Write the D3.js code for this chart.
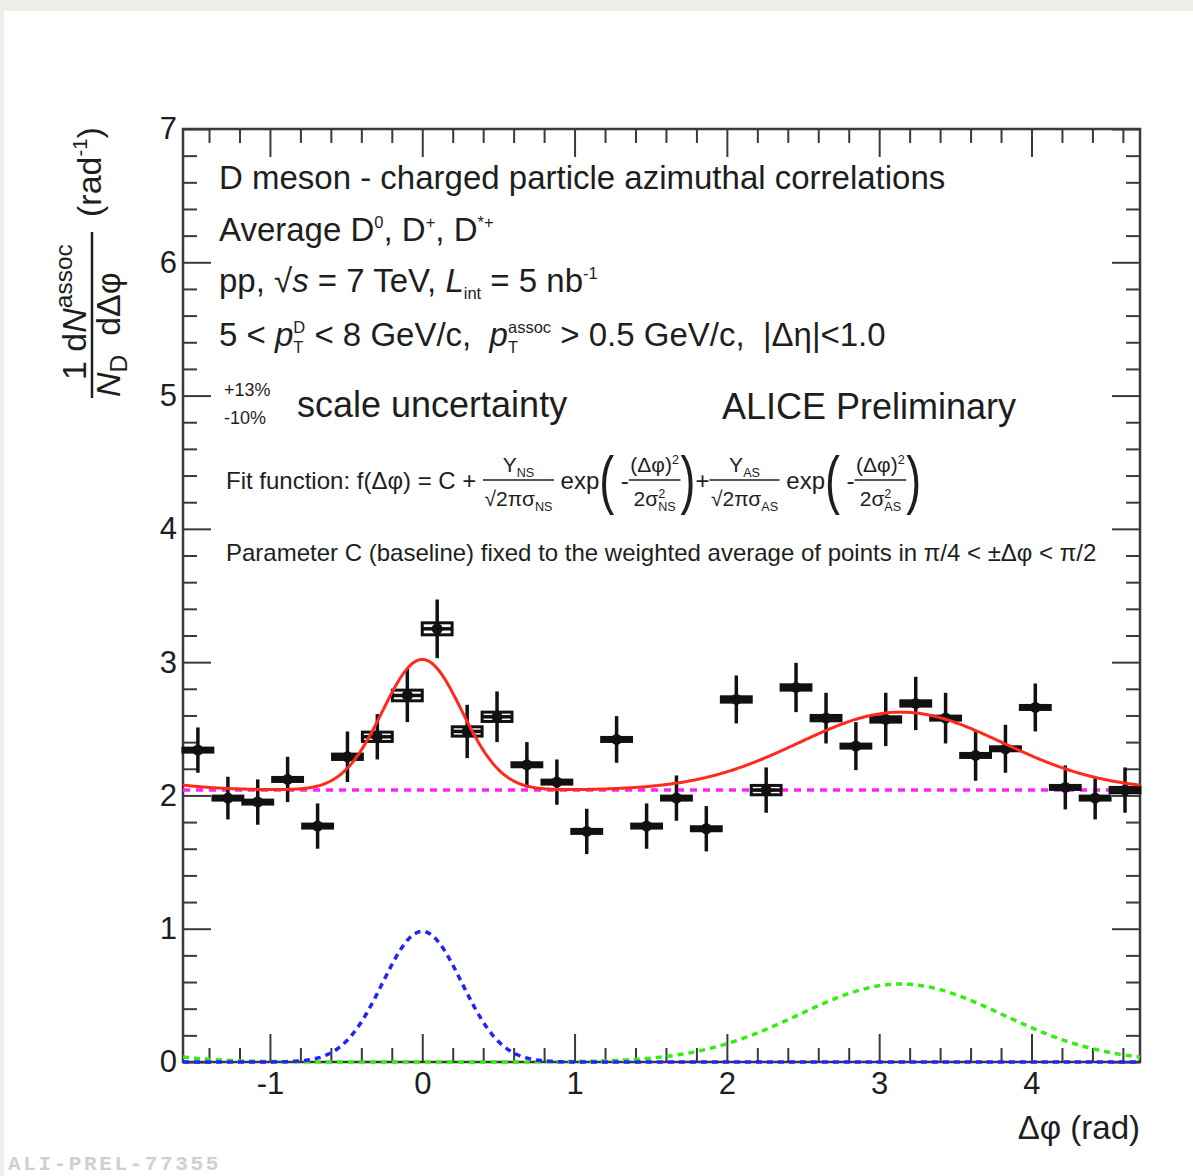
<!DOCTYPE html>
<html lang="en">
<head>
<meta charset="utf-8">
<title>D meson - charged particle azimuthal correlations</title>
<style>
  body { margin: 0; background: #fff; }
  svg text { font-family: "Liberation Sans", Arial, sans-serif; fill: #1e1e1e; white-space: pre; }
</style>
</head>
<body>
<script src="https://cdn.jsdelivr.net/npm/d3@7"></script>
<script>
// bin centres of the 32 delta-phi bins (-pi/2 .. 3pi/2), half bin width
const binCentres = [-1.473, -1.276, -1.080, -0.884, -0.687, -0.491, -0.295, -0.098,
    0.098, 0.295, 0.491, 0.687, 0.884, 1.080, 1.276, 1.473,
    1.669, 1.865, 2.062, 2.258, 2.454, 2.651, 2.847, 3.043,
    3.240, 3.436, 3.633, 3.829, 4.025, 4.222, 4.418, 4.614];
const binHalfWidth = 0.098;

// per-trigger associated yield, stat and syst errors
const yields = [2.34, 1.98, 1.95, 2.12, 1.77, 2.29, 2.44, 2.75,
    3.25, 2.48, 2.59, 2.23, 2.10, 1.73, 2.42, 1.77,
    1.98, 1.75, 2.72, 2.04, 2.81, 2.58, 2.37, 2.57,
    2.69, 2.58, 2.30, 2.35, 2.66, 2.06, 1.98, 2.04];
const statErr = [0.17, 0.16, 0.17, 0.17, 0.17, 0.19, 0.17, 0.20,
    0.22, 0.20, 0.19, 0.17, 0.17, 0.17, 0.175, 0.17,
    0.17, 0.17, 0.18, 0.17, 0.185, 0.19, 0.18, 0.20,
    0.20, 0.19, 0.19, 0.18, 0.18, 0.165, 0.16, 0.17];
const sysErr = [0.015, 0.015, 0.015, 0.015, 0.015, 0.02, 0.035, 0.04,
    0.045, 0.035, 0.035, 0.015, 0.015, 0.015, 0.015, 0.015,
    0.015, 0.015, 0.02, 0.035, 0.02, 0.02, 0.015, 0.02,
    0.02, 0.015, 0.015, 0.015, 0.015, 0.015, 0.015, 0.02];

// fit parameters (peak heights of the gaussians, widths, baseline)
const baselineC = 2.04;
const nearSide = {peak: 0.98, mean: 0, sigma: 0.26};
const awaySide = {peak: 0.585, mean: Math.PI, sigma: 0.67};

const xMajorTicks = [-1, 0, 1, 2, 3, 4];
const yMajorTicks = [0, 1, 2, 3, 4, 5, 6, 7];

const W = 1193, H = 1176;
const svg = d3.select("body").append("svg").attr("width", W).attr("height", H);

// page background (light grey strip on top/left like the screenshot)
svg.append("rect").attr("width", W).attr("height", H).attr("fill", "#eeeeea");
svg.append("rect").attr("x", 4).attr("y", 11).attr("width", W - 4).attr("height", H - 11).attr("fill", "#fff");

const x = d3.scaleLinear().domain([-Math.PI / 2, 3 * Math.PI / 2]).range([183, 1140]);
const y = d3.scaleLinear().domain([0, 7]).range([1062, 129]);

// minor ticks every 0.2
const xMinor = d3.range(-7, 24).map(i => +(i * 0.2).toFixed(1)).filter(v => !Number.isInteger(v));
const yMinor = d3.range(1, 35).map(i => +(i * 0.2).toFixed(1)).filter(v => !Number.isInteger(v));

function axisStyle(g) {
    g.select(".domain").remove();
    g.attr("color", "#3a3a3a");
    g.selectAll("line").attr("stroke-width", 2);
    g.selectAll("text").attr("fill", "#1e1e1e").style("font-size", "31px");
}

svg.append("g").attr("transform", `translate(0,${y(0)})`)
    .call(d3.axisBottom(x).tickValues(xMajorTicks).tickSize(-28).tickPadding(10).tickFormat(d => String(d)))
    .call(axisStyle);
svg.append("g").attr("transform", `translate(0,${y(0)})`)
    .call(d3.axisBottom(x).tickValues(xMinor).tickSize(-14).tickFormat(""))
    .call(axisStyle);
svg.append("g").attr("transform", `translate(0,${y(7)})`)
    .call(d3.axisTop(x).tickValues(xMajorTicks).tickSize(-28).tickFormat(""))
    .call(axisStyle);
svg.append("g").attr("transform", `translate(0,${y(7)})`)
    .call(d3.axisTop(x).tickValues(xMinor).tickSize(-14).tickFormat(""))
    .call(axisStyle);
svg.append("g").attr("transform", `translate(${x.range()[0]},0)`)
    .call(d3.axisLeft(y).tickValues(yMajorTicks).tickSize(-28).tickPadding(6).tickFormat(d => String(d)))
    .call(axisStyle);
svg.append("g").attr("transform", `translate(${x.range()[0]},0)`)
    .call(d3.axisLeft(y).tickValues(yMinor).tickSize(-14).tickFormat(""))
    .call(axisStyle);
svg.append("g").attr("transform", `translate(${x.range()[1]},0)`)
    .call(d3.axisRight(y).tickValues(yMajorTicks).tickSize(-28).tickFormat(""))
    .call(axisStyle);
svg.append("g").attr("transform", `translate(${x.range()[1]},0)`)
    .call(d3.axisRight(y).tickValues(yMinor).tickSize(-14).tickFormat(""))
    .call(axisStyle);

// frame
svg.append("rect")
    .attr("x", x.range()[0]).attr("y", y(7))
    .attr("width", x.range()[1] - x.range()[0]).attr("height", y(0) - y(7))
    .attr("fill", "none").attr("stroke", "#3a3a3a").attr("stroke-width", 2.5);

// fit components
const gauss = (p, v) => {
    // periodic images so the tails wrap round the 2pi range
    let s = 0;
    for (const k of [-1, 0, 1]) {
        const d = v - p.mean + k * 2 * Math.PI;
        s += p.peak * Math.exp(-d * d / (2 * p.sigma * p.sigma));
    }
    return s;
};
const grid = d3.range(0, 629).map(i => -Math.PI / 2 + i * 0.01).concat([3 * Math.PI / 2]);
const line = d3.line().x(d => x(d[0])).y(d => y(d[1]));

const plot = svg.append("g");
plot.append("path").datum(grid.map(v => [v, gauss(awaySide, v)]))
    .attr("d", line).attr("fill", "none").attr("stroke", "#33ee11")
    .attr("stroke-width", 3.5).attr("stroke-dasharray", "6,5");
plot.append("path").datum(grid.map(v => [v, gauss(nearSide, v)]))
    .attr("d", line).attr("fill", "none").attr("stroke", "#2222ff")
    .attr("stroke-width", 3.5).attr("stroke-dasharray", "6,5");
plot.append("path").datum(grid.map(v => [v, baselineC]))
    .attr("d", line).attr("fill", "none").attr("stroke", "#ff22ff")
    .attr("stroke-width", 3.5).attr("stroke-dasharray", "7,6");

// data points
const pts = plot.selectAll("g.pt").data(yields.map((v, i) => ({
    x: binCentres[i], v: v, stat: statErr[i], sys: sysErr[i]
}))).join("g").attr("class", "pt");

pts.append("rect")
    .attr("x", d => x(d.x - binHalfWidth)).attr("y", d => y(d.v + d.sys))
    .attr("width", d => x(d.x + binHalfWidth) - x(d.x - binHalfWidth))
    .attr("height", d => y(d.v - d.sys) - y(d.v + d.sys))
    .attr("fill", "none").attr("stroke", "#111").attr("stroke-width", 3);
pts.append("line")
    .attr("x1", d => x(d.x - binHalfWidth)).attr("x2", d => x(d.x + binHalfWidth))
    .attr("y1", d => y(d.v)).attr("y2", d => y(d.v))
    .attr("stroke", "#111").attr("stroke-width", 3.5);
pts.append("line")
    .attr("x1", d => x(d.x)).attr("x2", d => x(d.x))
    .attr("y1", d => y(d.v - d.stat)).attr("y2", d => y(d.v + d.stat))
    .attr("stroke", "#111").attr("stroke-width", 3.5);
pts.append("circle")
    .attr("cx", d => x(d.x)).attr("cy", d => y(d.v)).attr("r", 5.5).attr("fill", "#111");

// total fit
plot.append("path").datum(grid.map(v => [v, baselineC + gauss(nearSide, v) + gauss(awaySide, v)]))
    .attr("d", line).attr("fill", "none").attr("stroke", "#ff2a1a").attr("stroke-width", 3);

// ---- text helpers ----
function put(g, px, py, size, str, italic) {
    const t = g.append("text").attr("x", px).attr("y", py).style("font-size", size + "px").text(str);
    if (italic) t.style("font-style", "italic");
    return t.node().getComputedTextLength();
}
function rich(g, px, py, size, parts) {
    let cx = px;
    parts.forEach(p => {
        if (p.sup != null || p.sub != null) {
            const s = size * (p.scale || 0.6);
            let w = 0;
            if (p.sup != null) w = Math.max(w, put(g, cx, py - size * 0.4, s, p.sup, p.it));
            if (p.sub != null) w = Math.max(w, put(g, cx, py + size * 0.22, s, p.sub, p.it));
            cx += w;
        } else {
            cx += put(g, cx, py, size, p.t, p.it);
        }
    });
    return cx - px;
}

const txt = svg.append("g");
rich(txt, 219, 189, 33, [{t: "D meson - charged particle azimuthal correlations"}]);
rich(txt, 219, 241, 33, [{t: "Average D"}, {sup: "0", scale: 0.5}, {t: ", D"}, {sup: "+", scale: 0.5},
    {t: ", D"}, {sup: "*+", scale: 0.5}]);
rich(txt, 219, 292, 33, [{t: "pp, √"}, {t: "s", it: true}, {t: " = 7 TeV, "}, {t: "L", it: true},
    {sub: "int", scale: 0.5}, {t: " = 5 nb"}, {sup: "-1", scale: 0.5}]);
rich(txt, 219, 346, 33, [{t: "5 < "}, {t: "p", it: true}, {sup: "D", sub: "T", scale: 0.5},
    {t: " < 8 GeV/c,  "}, {t: "p", it: true}, {sup: "assoc", sub: "T", scale: 0.5},
    {t: " > 0.5 GeV/c,  |Δη|<1.0"}]);
put(txt, 224, 396, 18, "+13%");
put(txt, 224, 424, 18, "-10%");
put(txt, 297, 417, 36, "scale uncertainty");
put(txt, 722, 419, 36, "ALICE Preliminary");

// fit function formula
const fs = 24, fsFrac = 21;
function frac(px, num, den) {
    const gN = txt.append("g"), gD = txt.append("g");
    const wN = rich(gN, 0, 472, fsFrac, num);
    const wD = rich(gD, 0, 506, fsFrac, den);
    const w = Math.max(wN, wD) + 3;
    gN.attr("transform", `translate(${px + (w - wN) / 2},0)`);
    gD.attr("transform", `translate(${px + (w - wD) / 2},0)`);
    txt.append("line").attr("x1", px).attr("x2", px + w).attr("y1", 480).attr("y2", 480)
        .attr("stroke", "#1e1e1e").attr("stroke-width", 1.6);
    return px + w;
}
function paren(px, ch) {
    const t = txt.append("text").attr("x", px).attr("y", 502).style("font-size", "64px")
        .attr("transform", `translate(${px},0) scale(0.7,1) translate(${-px},0)`).text(ch);
    return px + t.node().getComputedTextLength() * 0.7;
}
let fx = 226;
fx += rich(txt, fx, 489, fs, [{t: "Fit function: f(Δφ) = C + "}]);
fx = frac(fx, [{t: "Y"}, {sub: "NS"}], [{t: "√2πσ"}, {sub: "NS"}]);
fx += rich(txt, fx, 489, fs, [{t: " exp"}]);
fx = paren(fx, "(");
fx += rich(txt, fx, 489, fs, [{t: " -"}]);
fx = frac(fx, [{t: "(Δφ)"}, {sup: "2"}], [{t: "2σ"}, {sup: "2", sub: "NS"}]);
fx = paren(fx, ")");
fx += rich(txt, fx, 489, fs, [{t: "+"}]);
fx = frac(fx, [{t: "Y"}, {sub: "AS"}], [{t: "√2πσ"}, {sub: "AS"}]);
fx += rich(txt, fx, 489, fs, [{t: " exp"}]);
fx = paren(fx, "(");
fx += rich(txt, fx, 489, fs, [{t: " -"}]);
fx = frac(fx, [{t: "(Δφ)"}, {sup: "2"}], [{t: "2σ"}, {sup: "2", sub: "AS"}]);
paren(fx, ")");

put(txt, 226, 561, 24, "Parameter C (baseline) fixed to the weighted average of points in π/4 < ±Δφ < π/2");

// x axis title
txt.append("text").attr("x", 1140).attr("y", 1139).attr("text-anchor", "end")
    .style("font-size", "33px").text("Δφ (rad)");

// y axis title, rotated
const yt = svg.append("g").attr("transform", "translate(92,398) rotate(-90)");
rich(yt, 18, -6, 34, [{t: "1 d"}, {t: "N", it: true}, {sup: "assoc", scale: 0.72}]);
rich(yt, 1, 28, 34, [{t: "N", it: true}, {sub: "D", scale: 0.72}, {t: "  dΔφ"}]);
yt.append("line").attr("x1", 0).attr("x2", 166).attr("y1", 0).attr("y2", 0)
    .attr("stroke", "#1e1e1e").attr("stroke-width", 2.5);
rich(yt, 181, 9, 34, [{t: "(rad"}, {sup: "-1", scale: 0.6}, {t: ")"}]);

// preliminary tag
svg.append("text").attr("x", 8).attr("y", 1170)
    .style("font-family", "'Liberation Mono', monospace").style("font-weight", "bold")
    .style("font-size", "21px").style("letter-spacing", "2.6px").style("fill", "#cfcfcf").text("ALI-PREL-77355");
</script>
</body>
</html>
